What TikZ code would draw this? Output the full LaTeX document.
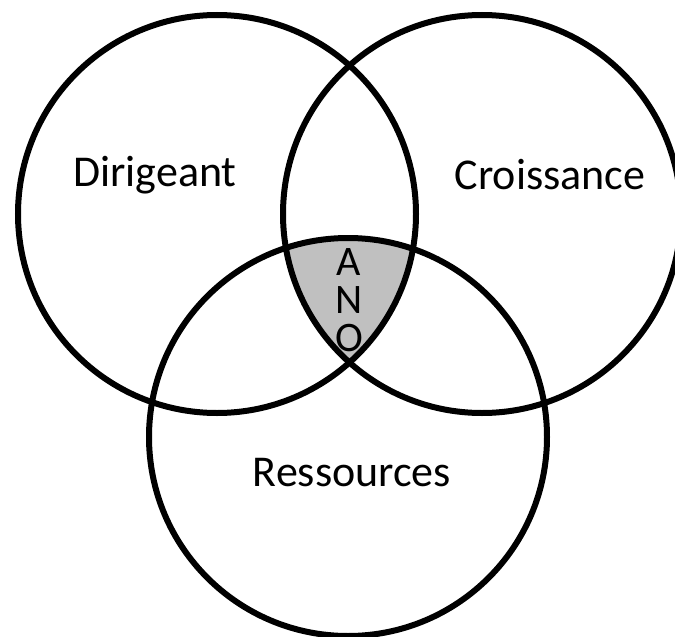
\documentclass[tikz,border=0pt]{standalone}
\usepackage{fontspec}
\setmainfont{Carlito}
\begin{document}
\begin{tikzpicture}[x=1pt,y=-1pt,
  ring/.style={draw=black, line width=6pt},
  core/.style={fill={rgb,255:red,192;green,192;blue,192}},
  lbl/.style={font=\fontsize{44}{48}\selectfont, inner sep=0pt, anchor=base},
  core lbl/.style={font=\fontsize{42}{38}\selectfont, inner sep=0pt, align=center, anchor=north}]
\useasboundingbox (0,0) rectangle (675,637);
\clip (0,0) rectangle (675,637);
\coordinate (cD) at (217,214);
\coordinate (cC) at (482,214);
\coordinate (cR) at (348,437);
\begin{scope}
  \clip (cD) circle[radius=199pt];
  \clip (cC) circle[radius=199pt];
  \fill[core] (cR) circle[radius=199pt];
\end{scope}
\draw[ring] (cD) circle[radius=199pt];
\draw[ring] (cC) circle[radius=199pt];
\draw[ring] (cR) circle[radius=199pt];
\node[lbl] (dir) at (155,186) {Dirigeant};
\node[lbl] (cro) at (550,189) {Croissance};
\node[lbl] (res) at (352,486) {Ressources};
\node[core lbl] (ano) at (349,248) {A\\N\\O};
\end{tikzpicture}
\end{document}
